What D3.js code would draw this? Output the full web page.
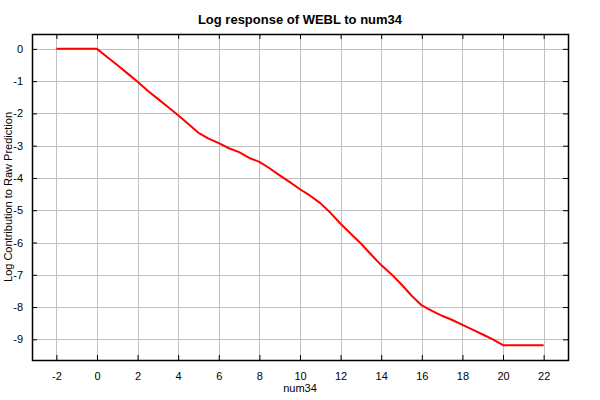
<!DOCTYPE html>
<html>
<head>
<meta charset="utf-8">
<script src="https://cdn.jsdelivr.net/npm/d3@7"></script>
<style>
  body { margin: 0; background: #fff; }
  text { font-family: "Liberation Sans", Arial, sans-serif; }
</style>
</head>
<body>
<svg width="600" height="400"></svg>
<script>
var xValues = [-2, 0, 0.5, 1, 1.5, 2, 2.5, 3, 3.5, 4, 4.5, 5, 5.5, 6, 6.5, 7, 7.5, 8, 8.5, 9, 9.5,
  10, 10.5, 11, 11.5, 12, 12.5, 13, 13.5, 14, 14.5, 15, 15.5, 16, 16.5, 17, 17.5, 18, 18.5,
  19, 19.5, 20, 22];
var yValues = [0, 0, -0.25, -0.5, -0.76, -1.02, -1.3, -1.55, -1.8, -2.06, -2.33, -2.6, -2.78,
  -2.92, -3.08, -3.2, -3.38, -3.5, -3.7, -3.92, -4.13, -4.35, -4.55, -4.78, -5.08, -5.42,
  -5.73, -6.03, -6.37, -6.7, -6.98, -7.3, -7.65, -7.95, -8.12, -8.27, -8.4, -8.55, -8.7,
  -8.85, -9.0, -9.18, -9.18];
var xTicks = [-2, 0, 2, 4, 6, 8, 10, 12, 14, 16, 18, 20, 22];
var yTicks = [0, -1, -2, -3, -4, -5, -6, -7, -8, -9];

var svg = d3.select('svg');
var padding = {t: 34, r: 32, b: 40, l: 32};
var chartWidth = 600 - padding.l - padding.r;
var chartHeight = 400 - padding.t - padding.b;

var chartG = svg.append('g')
    .attr('transform', 'translate(' + [padding.l, padding.t] + ')');

var xScale = d3.scaleLinear().domain([-3.2, 23.2]).range([0, chartWidth]);
var yScale = d3.scaleLinear().domain([-9.64, 0.46]).range([chartHeight, 0]);

// plain hyphen minus like the original
var fmt = function(d) { return String(d); };

// grid
chartG.append('g').selectAll('line.vg')
  .data(xTicks).enter().append('line')
  .attr('x1', function(d) { return Math.round(xScale(d)) + 0.5; })
  .attr('x2', function(d) { return Math.round(xScale(d)) + 0.5; })
  .attr('y1', 0).attr('y2', chartHeight)
  .attr('stroke', '#c0c0c0');
chartG.append('g').selectAll('line.hg')
  .data(yTicks).enter().append('line')
  .attr('y1', function(d) { return Math.round(yScale(d)) + 0.5; })
  .attr('y2', function(d) { return Math.round(yScale(d)) + 0.5; })
  .attr('x1', 0).attr('x2', chartWidth)
  .attr('stroke', '#c0c0c0');

// axes with inward ticks
function styleAxis(g) {
  g.select('.domain').remove();
  g.selectAll('text').style('font-size', '11px').attr('fill', '#000')
    .style('font-family', '"Liberation Sans", Arial, sans-serif');
  g.selectAll('line').attr('stroke', '#000');
}
chartG.append('g')
  .attr('transform', 'translate(0,' + chartHeight + ')')
  .call(d3.axisBottom(xScale).tickValues(xTicks).tickSize(-5).tickPadding(12).tickFormat(fmt))
  .call(styleAxis);
chartG.append('g')
  .call(d3.axisTop(xScale).tickValues(xTicks).tickSize(-5).tickFormat(''))
  .call(styleAxis);
chartG.append('g')
  .call(d3.axisLeft(yScale).tickValues(yTicks).tickSize(-5).tickPadding(9).tickFormat(fmt))
  .call(styleAxis);
chartG.append('g')
  .attr('transform', 'translate(' + chartWidth + ',0)')
  .call(d3.axisRight(yScale).tickValues(yTicks).tickSize(-5).tickFormat(''))
  .call(styleAxis);

chartG.append('rect')
  .attr('x', 0.5).attr('y', 0.5)
  .attr('width', chartWidth).attr('height', chartHeight)
  .attr('fill', 'none').attr('stroke', '#000').attr('stroke-width', 1.5);

var points = xValues.map(function(x, i) { return [x, yValues[i]]; });
var line = d3.line()
  .x(function(d) { return xScale(d[0]); })
  .y(function(d) { return yScale(d[1]); });

chartG.append('path')
  .datum(points)
  .attr('d', line)
  .attr('fill', 'none')
  .attr('stroke', '#ff0000')
  .attr('stroke-width', 2)
  .attr('stroke-linejoin', 'round');

svg.append('text')
  .attr('x', 300).attr('y', 24)
  .attr('text-anchor', 'middle')
  .style('font-size', '13px').style('font-weight', 'bold')
  .text('Log response of WEBL to num34');

svg.append('text')
  .attr('x', 300).attr('y', 392)
  .attr('text-anchor', 'middle')
  .style('font-size', '11px')
  .text('num34');

svg.append('text')
  .attr('transform', 'translate(12,' + (padding.t + chartHeight / 2) + ') rotate(-90)')
  .attr('text-anchor', 'middle')
  .style('font-size', '11px')
  .text('Log Contribution to Raw Prediction');
</script>
</body>
</html>
